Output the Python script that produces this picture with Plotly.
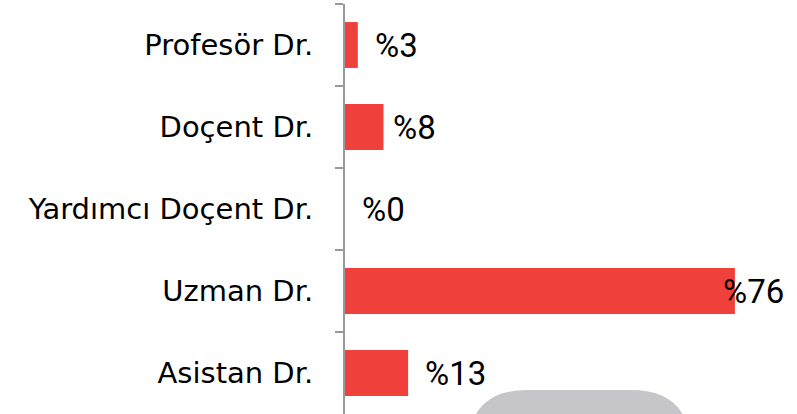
import plotly.graph_objects as go

categories = ["Profesör Dr.", "Doçent Dr.", "Yardımcı Doçent Dr.", "Uzman Dr.", "Asistan Dr."]
values = [2.5, 7.5, 0, 76, 12.3]
value_labels = ["%3", "%8", "%0", "%76", "%13"]
label_shift = [15, 8, 15, -14, 15]

fig = go.Figure()
fig.add_trace(go.Bar(
    x=values, y=categories, orientation="h",
    marker=dict(color="#f0403b", line=dict(width=0)),
    hoverinfo="skip",
))

for c, v, t, s in zip(categories, values, value_labels, label_shift):
    fig.add_annotation(x=v, y=c, text=t, showarrow=False, xanchor="left",
                       yanchor="middle", xshift=s,
                       font=dict(family="Roboto", size=33, color="#000"))

# decorative grey rounded shape at the bottom
x0, x1, ytop, ybot, rx, ry = 0.272, 0.765, 0.0585, -0.1, 0.133, 0.146
fig.add_shape(type="path", xref="paper", yref="paper", layer="below",
              path=(f"M {x0} {ybot} L {x0} {ytop-ry} Q {x0} {ytop} {x0+rx} {ytop} "
                    f"L {x1-rx} {ytop} Q {x1} {ytop} {x1} {ytop-ry} L {x1} {ybot} Z"),
              fillcolor="#c6c6ca", line=dict(width=0))

fig.update_layout(
    width=797, height=414,
    margin=dict(l=345, r=0, t=4, b=0),
    paper_bgcolor="white", plot_bgcolor="white",
    showlegend=False, bargap=0.44,
    xaxis=dict(range=[0, 88.1], visible=False, fixedrange=True, automargin=False),
    yaxis=dict(
        categoryorder="array", categoryarray=categories, autorange="reversed",
        automargin=False, fixedrange=True,
        showline=True, linecolor="#999999", linewidth=2,
        ticks="outside", tickson="boundaries", ticklen=8, tickcolor="#999999", tickwidth=2,
        ticklabelstandoff=24,
        tickfont=dict(family="DejaVu Sans", size=29, color="#000"),
        showgrid=False, zeroline=False,
    ),
)

fig.write_html("out.html", config={"displayModeBar": False},
               post_script="document.body.style.margin='0';document.body.style.overflow='hidden';")
